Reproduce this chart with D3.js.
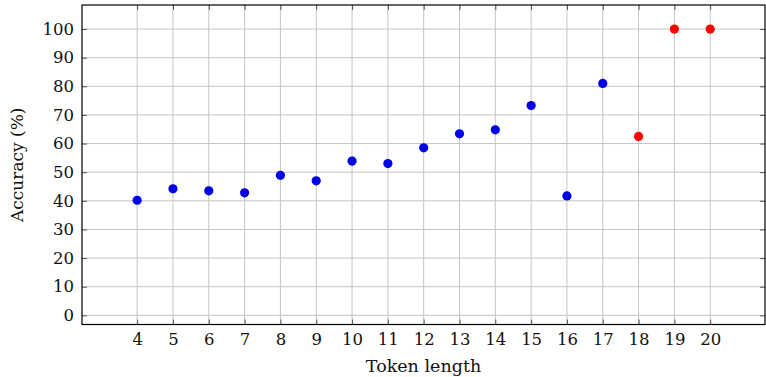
<!DOCTYPE html>
<html>
<head>
<meta charset="utf-8">
<script src="https://cdn.jsdelivr.net/npm/d3@7"></script>
<style>
  body { margin: 0; background: #fff; }
</style>
</head>
<body>
<svg id="chart" width="766" height="377"></svg>
<script>
// token lengths and accuracy values
var tokenLengths = [4, 5, 6, 7, 8, 9, 10, 11, 12, 13, 14, 15, 16, 17, 18, 19, 20];
var accuracy = [40.2, 44.2, 43.5, 42.8, 48.9, 47.0, 53.9, 53.0, 58.5, 63.4, 64.8, 73.3, 41.7, 81.0, 62.5, 100, 100];
var pointGroup = ["b", "b", "b", "b", "b", "b", "b", "b", "b", "b", "b", "b", "b", "b", "r", "r", "r"];
var yTicks = [0, 10, 20, 30, 40, 50, 60, 70, 80, 90, 100];

var svg = d3.select("#chart");
var plotL = 82, plotR = 765, plotT = 5, plotB = 324.5;
var serif = "'DejaVu Serif', serif";

var x = d3.scaleLinear().domain([2.46, 21.53]).range([plotL, plotR]);
var y = d3.scaleLinear().domain([-3.2, 108.4]).range([plotB, plotT]);

var colors = { b: "#0000e6", r: "#ff0000" };

// grid
svg.append("g").selectAll("line")
  .data(tokenLengths).enter().append("line")
  .attr("x1", function(d) { return x(d); }).attr("x2", function(d) { return x(d); })
  .attr("y1", plotT).attr("y2", plotB)
  .attr("stroke", "#c4c4c4").attr("stroke-width", 1);

svg.append("g").selectAll("line")
  .data(yTicks).enter().append("line")
  .attr("x1", plotL).attr("x2", plotR)
  .attr("y1", function(d) { return y(d); }).attr("y2", function(d) { return y(d); })
  .attr("stroke", "#c4c4c4").attr("stroke-width", 1);

// inner ticks on all four sides
var tickLen = 5;
var xAxisB = d3.axisBottom(x).tickValues(tokenLengths).tickSize(-tickLen).tickPadding(9)
  .tickFormat(d3.format("d"));
var xAxisT = d3.axisTop(x).tickValues(tokenLengths).tickSize(-tickLen).tickFormat("");
var yAxisL = d3.axisLeft(y).tickValues(yTicks).tickSize(-tickLen).tickPadding(8)
  .tickFormat(d3.format("d"));
var yAxisR = d3.axisRight(y).tickValues(yTicks).tickSize(-tickLen).tickFormat("");

function styleAxis(g) {
  g.select(".domain").remove();
  g.selectAll(".tick line").attr("stroke", "#555").attr("stroke-width", 1);
  g.selectAll(".tick text")
    .style("font-family", serif).style("font-size", "16.5px").style("fill", "#111");
}

svg.append("g").attr("transform", "translate(0," + plotB + ")").call(xAxisB).call(styleAxis);
svg.append("g").attr("transform", "translate(0," + plotT + ")").call(xAxisT).call(styleAxis);
svg.append("g").attr("transform", "translate(" + plotL + ",0)").call(yAxisL).call(styleAxis);
svg.append("g").attr("transform", "translate(" + plotR + ",0)").call(yAxisR).call(styleAxis);

// frame
svg.append("rect")
  .attr("x", plotL).attr("y", plotT)
  .attr("width", plotR - plotL).attr("height", plotB - plotT)
  .attr("fill", "none").attr("stroke", "#000").attr("stroke-width", 1.2);

// points
svg.append("g").selectAll("circle")
  .data(tokenLengths).enter().append("circle")
  .attr("cx", function(d) { return x(d); })
  .attr("cy", function(d, i) { return y(accuracy[i]); })
  .attr("r", 4.6)
  .attr("fill", function(d, i) { return colors[pointGroup[i]]; });

// axis labels
svg.append("text")
  .attr("x", (plotL + plotR) / 2).attr("y", 372)
  .attr("text-anchor", "middle")
  .style("font-family", serif).style("font-size", "17.5px")
  .style("fill", "#111")
  .text("Token length");

svg.append("text")
  .attr("transform", "translate(23," + ((plotT + plotB) / 2) + ") rotate(-90)")
  .attr("text-anchor", "middle")
  .style("font-family", serif).style("font-size", "17px")
  .style("fill", "#111")
  .text("Accuracy (%)");
</script>
</body>
</html>
